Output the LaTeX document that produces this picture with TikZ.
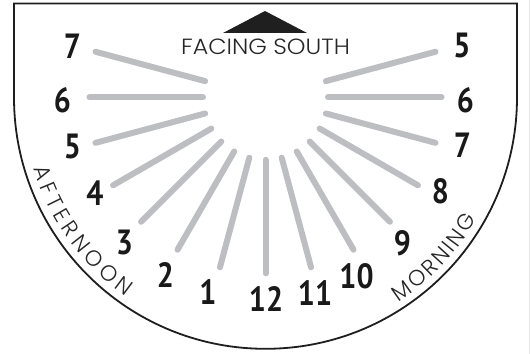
\documentclass[tikz,border=0pt]{standalone}
\usepackage{fontspec}
\usetikzlibrary{decorations.text}
\newfontfamily\numfont{PT Sans}[FakeStretch=0.86]
\newfontfamily\thinfont{Poppins Light}
\newfontfamily\widefont{Poppins Light}[FakeStretch=1.08]
\definecolor{raygray}{HTML}{BDBEC1}
\definecolor{edge}{HTML}{1E1E1E}
\definecolor{pinkline}{HTML}{F2E1E1}
\begin{document}
\begin{tikzpicture}[x=1pt,y=1pt,
  hour/.style={font=\numfont\bfseries\fontsize{35}{35}\selectfont, inner sep=0pt, text=black!90},
  ray/.style={draw=raygray, line width=6pt, line cap=round},
  outline/.style={draw=edge, line width=1.8pt},
  caption/.style={font=\widefont\fontsize{22}{22}\selectfont, inner sep=0pt, text=black!85}]
\useasboundingbox (0,0) rectangle (531,354);
\coordinate (C) at (265.5,256.7);
\draw[pinkline, line width=1pt] (529.5,0) -- (529.5,354);
\draw[outline] (517,256.7) arc[start angle=0, end angle=-180, radius=251.5] -- (14,350.5) -- (517,350.5) -- cycle;
% rays
\foreach \a [count=\k] in {165,180,...,375} {
  \coordinate (i\k) at ([shift={(\a:62.5)}]C);
  \coordinate (o\k) at ([shift={(\a:176)}]C);
  \draw[ray] (i\k) -- (o\k);
}
% triangle
\coordinate (tA) at (265,343);
\coordinate (tL) at (223,321);
\coordinate (tR) at (307,321);
\fill[black!88] (tL) -- (tA) -- (tR) -- cycle;
\node[caption, anchor=base] (facing) at (265.5,299) {FACING SOUTH};
% hour labels
\node[hour] (l7) at (72.5,308) {7};
\node[hour] (l6) at (62.5,254) {6};
\node[hour] (l5) at (72.5,208) {5};
\node[hour] (l4) at (95,161) {4};
\node[hour] (l3) at (124.5,111.5) {3};
\node[hour] (l2) at (165.5,78.5) {2};
\node[hour] (l1) at (208,61.5) {1};
\node[hour] (l12) at (266,55) {12};
\node[hour] (r11) at (315,60.5) {11};
\node[hour] (r10) at (356.5,77.5) {10};
\node[hour] (r9) at (402.5,110.5) {9};
\node[hour] (r8) at (440.5,162.5) {8};
\node[hour] (r7) at (462.5,208.5) {7};
\node[hour] (r6) at (465.5,254) {6};
\node[hour] (r5) at (462,308.5) {5};
% curved texts
\path[decorate, decoration={text along path, text color=black!85,
  text={|\thinfont\fontsize{22}{22}\selectfont|AFTERNOON}, text align={fit to path}}]
  ([shift={(197:243)}]C) arc[start angle=197, end angle=235, radius=243];
\path[decorate, decoration={text along path, text color=black!85,
  text={|\thinfont\fontsize{22}{22}\selectfont|MORNING}, text align={fit to path}}]
  ([shift={(-57:244)}]C) arc[start angle=-57, end angle=-30, radius=244];
\end{tikzpicture}
\end{document}
